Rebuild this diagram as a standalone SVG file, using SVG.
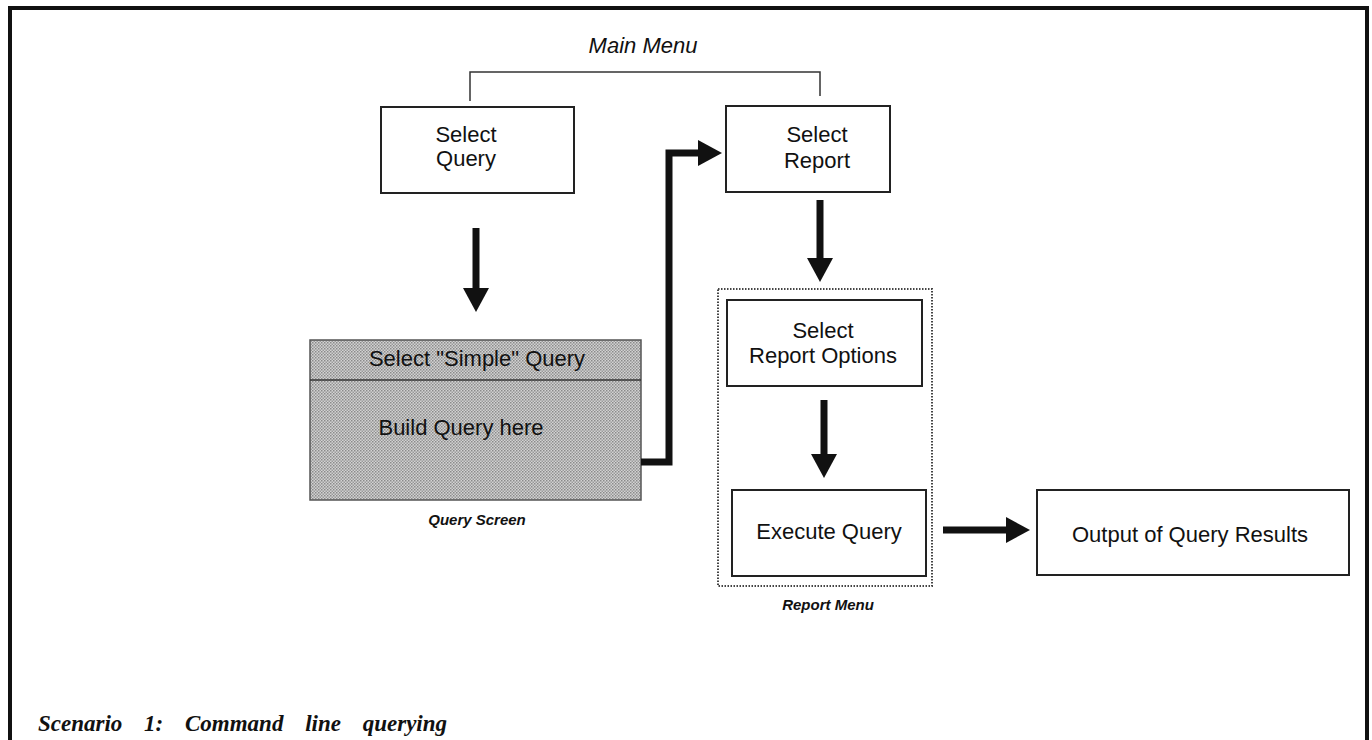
<svg xmlns="http://www.w3.org/2000/svg" width="1372" height="740" viewBox="0 0 1372 740">
<defs>
<style>
.box{fill:#fff;stroke:#222;stroke-width:2}
.lbl{font-family:"Liberation Sans",Arial,sans-serif;font-size:22px;fill:#111;text-anchor:middle}
.cap{font-family:"Liberation Sans",Arial,sans-serif;font-size:15px;font-style:italic;font-weight:bold;fill:#111;text-anchor:middle}
.arr{stroke:#111;stroke-width:7;fill:none;marker-end:url(#ah)}
</style>
<marker id="ah" viewBox="0 0 24 26" refX="2" refY="13" markerWidth="24" markerHeight="26" markerUnits="userSpaceOnUse" orient="auto">
<path d="M0,0 L24,13 L0,26 Z" fill="#111"/>
</marker>
<pattern id="dots" width="3" height="3" patternUnits="userSpaceOnUse">
<rect width="3" height="3" fill="#d2d2d2"/>
<rect width="1.5" height="1.5" fill="#8a8a8a"/>
<rect x="1.5" y="1.5" width="1.5" height="1.5" fill="#9a9a9a"/>
</pattern>
</defs>
<rect width="1372" height="740" fill="#fff"/>
<g id="frame" fill="none" stroke="#111" stroke-width="4">
<path d="M10,740 V8 H1367 V740"/>
</g>
<g id="main-menu">
<text x="643" y="53" class="lbl" font-style="italic">Main Menu</text>
<path d="M470,101 V72 H820 V96" fill="none" stroke="#333" stroke-width="1.5"/>
</g>
<g id="select-query">
<rect class="box" x="381" y="107" width="193" height="86"/>
<text class="lbl" x="466" y="142">Select</text>
<text class="lbl" x="466" y="166">Query</text>
</g>
<g id="select-report">
<rect class="box" x="726" y="106" width="164" height="86"/>
<text class="lbl" x="817" y="142">Select</text>
<text class="lbl" x="817" y="168">Report</text>
</g>
<g id="query-screen">
<rect x="310" y="340" width="331" height="160" fill="url(#dots)" stroke="#555" stroke-width="1.5"/>
<line x1="310" y1="380" x2="641" y2="380" stroke="#333" stroke-width="1.5"/>
<text class="lbl" x="477" y="366">Select "Simple" Query</text>
<text class="lbl" x="461" y="435">Build Query here</text>
<text class="cap" x="477" y="525">Query Screen</text>
</g>
<g id="report-menu">
<rect x="718" y="289" width="214" height="297" fill="none" stroke="#444" stroke-width="2" stroke-dasharray="1.5 1.5"/>
<text class="cap" x="828" y="610">Report Menu</text>
</g>
<g id="select-report-options">
<rect class="box" x="727" y="300" width="195" height="86"/>
<text class="lbl" x="823" y="338">Select</text>
<text class="lbl" x="823" y="363">Report Options</text>
</g>
<g id="execute-query">
<rect class="box" x="732" y="490" width="194" height="86"/>
<text class="lbl" x="829" y="539">Execute Query</text>
</g>
<g id="output-results">
<rect class="box" x="1037" y="490" width="312" height="85"/>
<text class="lbl" x="1190" y="542">Output of Query Results</text>
</g>
<g id="connectors">
<line class="arr" x1="476" y1="228" x2="476" y2="290"/>
<line class="arr" x1="820" y1="200" x2="820" y2="260"/>
<line class="arr" x1="824" y1="400" x2="824" y2="456"/>
<line class="arr" x1="943" y1="530" x2="1008" y2="530"/>
<path class="arr" d="M641,462 H669 V153 H700" stroke-width="6"/>
</g>
<text x="38" y="731" font-family="'Liberation Serif','Times New Roman',serif" font-size="23" font-weight="bold" font-style="italic" fill="#111" word-spacing="16">Scenario 1: Command line querying</text>
</svg>
